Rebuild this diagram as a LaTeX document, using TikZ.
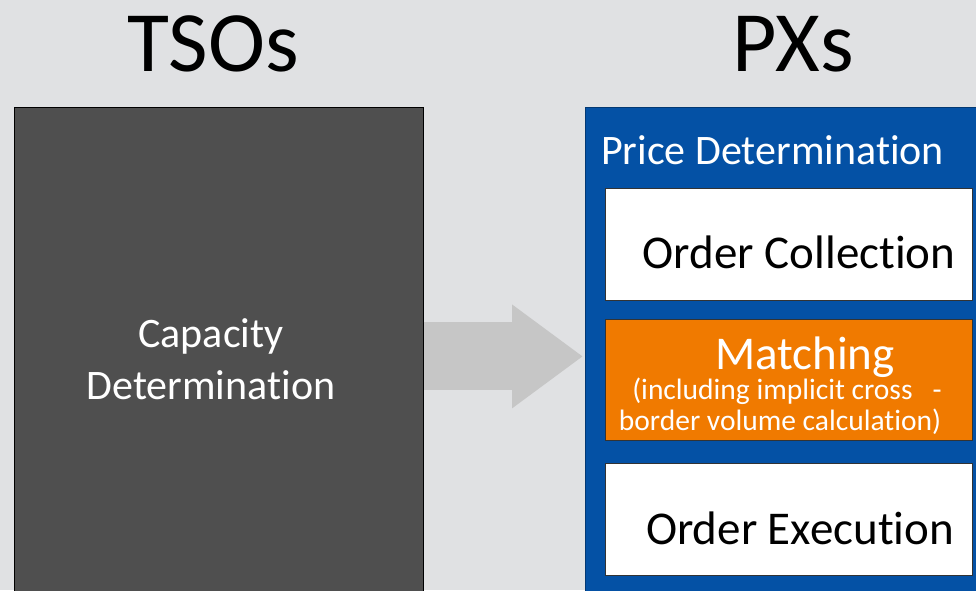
\documentclass[tikz,border=0pt]{standalone}
\usepackage{fontspec}
\setmainfont[Ligatures=NoCommon]{Carlito}
\usepackage{xcolor}
\usetikzlibrary{positioning, arrows.meta, calc}

\definecolor{bggray}{HTML}{E0E1E3}
\definecolor{tsogray}{HTML}{4F4F4F}
\definecolor{pxblue}{HTML}{0451A5}
\definecolor{matchorange}{HTML}{F07A00}
\definecolor{arrowgray}{HTML}{C6C6C6}

\tikzset{
  bigbox/.style={minimum width=#1, minimum height=498pt, inner sep=0pt, anchor=north west},
  stepbox/.style={draw=black!80, line width=0.8pt, minimum width=367pt, inner sep=0pt},
  txt/.style={inner sep=0pt, anchor=base},
}

\begin{document}
\begin{tikzpicture}[x=1pt, y=-1pt]
\fill[bggray] (0,0) rectangle (976,590);
\useasboundingbox (0,0) rectangle (976,590);
% titles
\node[txt, font=\fontsize{86}{90}\selectfont] (tsotitle) at (213,71) {TSOs};
\node[txt, font=\fontsize{86}{90}\selectfont] (pxtitle) at (793,71) {PXs};
% TSO side
\node[bigbox=409pt, draw=black, line width=0.8pt, fill=tsogray] (tso) at (14,107) {};
\node[txt, white, font=\fontsize{42}{52}\selectfont] (caplbl1) at (211,347) {Capacity};
\node[txt, white, font=\fontsize{42}{52}\selectfont] (caplbl2) at (211,399) {Determination};
% PX side
\node[bigbox=420pt, draw=pxblue!70!black, line width=0.8pt, fill=pxblue] (px) at (585,107) {};
\node[txt, anchor=base west, white, font=\fontsize{42}{48}\selectfont] (pricelbl) at (601,164) {Price Determination};
\node[stepbox, fill=white, minimum height=112pt] (collect) at (788.5,244) {};
\node[stepbox, fill=matchorange, minimum height=121pt] (match) at (788.5,379.5) {};
\node[stepbox, fill=white, minimum height=112pt] (execute) at (788.5,519) {};
\node[txt, font=\fontsize{47}{52}\selectfont] (collectlbl) at (799,268) {Order Collection};
\node[txt, white, font=\fontsize{47}{52}\selectfont] (matchlbl) at (805,369) {Matching};
\node[txt, white, font=\fontsize{29.5}{32}\selectfont] (matchsub1) at (787,399) {(including implicit cross~~~-};
\node[txt, white, font=\fontsize{29.5}{32}\selectfont] (matchsub2) at (780,430) {border volume calculation)};
\node[txt, font=\fontsize{47}{52}\selectfont] (executelbl) at (800,544) {Order Execution};
% capacity handed over
\draw[arrowgray, line width=68pt, -{Triangle[length=71pt, width=99pt]}, shorten >=2pt] (tso.east) -- (px.west);
\end{tikzpicture}
\end{document}
